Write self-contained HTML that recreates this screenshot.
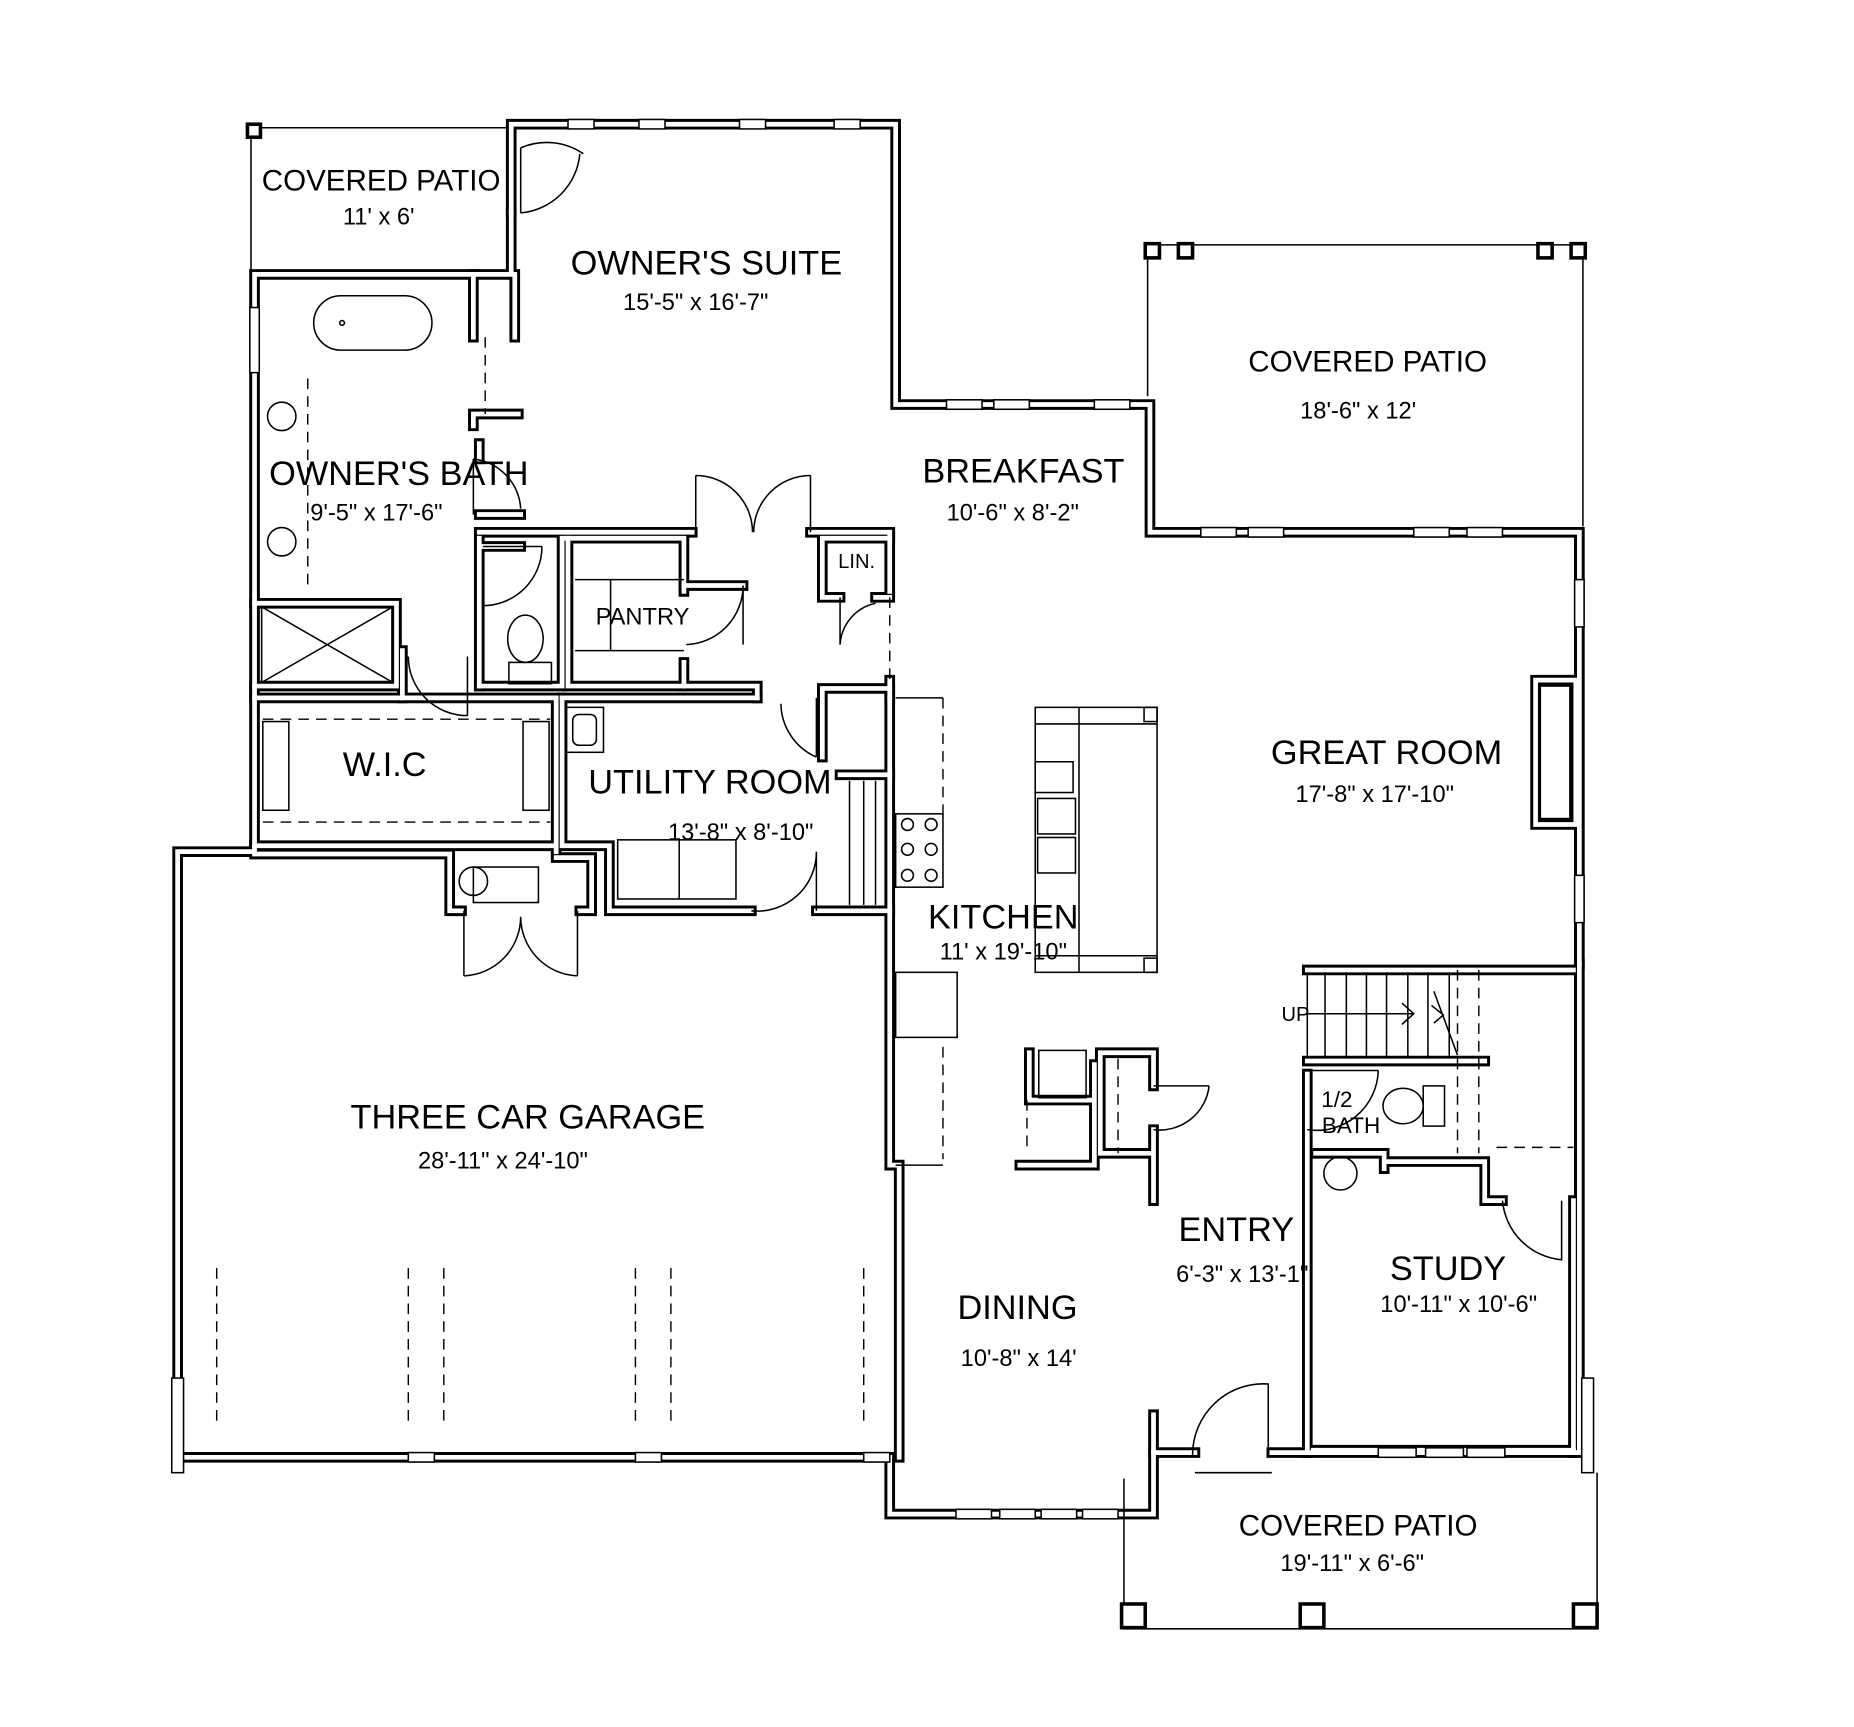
<!DOCTYPE html>
<html><head><style>
html,body{margin:0;padding:0;background:#fff}
svg{display:block}
text{font-family:"Liberation Sans",sans-serif;fill:#000}
.L{font-size:29px}
.S{font-size:20px}
.t{fill:none;stroke:#000;stroke-width:1.3}
.d{fill:none;stroke:#000;stroke-width:1.2;stroke-dasharray:9 6}
</style></head><body>
<svg width="1854" height="1727" viewBox="0 0 1567 1460" xmlns="http://www.w3.org/2000/svg">
<defs>
<g id="walls" fill="none" stroke-linejoin="miter" stroke-linecap="square">
<path d="M432,180 V105 H757 V342 H972 V450 H1335 V815"/>
<path d="M1335,815 V1228 H1075"/>
<path d="M1010,1228 H975 V1280 H752 V1232 H150 V720 H215 V232 H432 V180"/>
<path d="M975,1228 V1196"/>
<path d="M400,232 V285 M435,232 V285 M400,350 H438 M400,350 V360"/>
<path d="M405,375 V388 M405,435 H440 M405,455 V462 H440 M405,462 V580"/>
<path d="M405,450 H585 M685,450 H752"/>
<path d="M215,510 H335 V580 H215 M340,550 V590 M405,580 H475 V455 H480"/>
<path d="M480,455 V580 H578 V560 M578,500 V455 H480"/>
<path d="M578,495 H628 M578,580 H640 V590"/>
<path d="M695,455 V505 H710 M740,505 H752 M695,455 H752"/>
<path d="M752,450 V500 M752,575 V590"/>
<path d="M215,590 H470 V715 H215"/>
<path d="M470,715 V720 M475,590 V715 H515 V770 H635 M690,770 H752"/>
<path d="M475,590 H640 M695,582 H752 M695,582 V640 M710,655 H752"/>
<path d="M752,590 V985 H760 M760,985 V1232"/>
<path d="M215,722 H380 V770 H390 M490,770 H500 V725 H470"/>
<path d="M862,985 H925 V900 M870,890 V930 H925 M930,890 H975 V918 M975,955 V1015 M930,890 V975 H975"/>
<path d="M1105,820 H1330 M1105,897 H1255 M1105,908 V1228 M1112,975 H1170 V988 M1170,982 H1255 V1015 H1270 M1110,1226 H1330"/>
<path d="M1330,1015 V1228"/>
<path d="M1298,575 H1332 V697 H1298 Z"/>
</g>
</defs>
<use href="#walls" stroke="#000" stroke-width="9"/>
<use href="#walls" stroke="#fff" stroke-width="4"/>

<path class="t" d="M212,108 V228 M212,108 H430 M970,207 V335 M970,207 H1338 V445 M950,1250 V1377 H1350 V1245"/>
<g fill="#fff" stroke="#000" stroke-width="3">
<rect x="209" y="105" width="11" height="11"/>
<rect x="968" y="206" width="12" height="12"/><rect x="996" y="206" width="12" height="12"/>
<rect x="1300" y="206" width="12" height="12"/><rect x="1328" y="206" width="12" height="12"/>
<rect x="948" y="1356" width="20" height="20"/><rect x="1099" y="1356" width="20" height="20"/><rect x="1330" y="1356" width="20" height="20"/>
</g>
<g stroke="#000" stroke-width="1.3" fill="#fff">
<rect x="480" y="101" width="22" height="8"/><rect x="540" y="101" width="22" height="8"/><rect x="625" y="101" width="22" height="8"/><rect x="705" y="101" width="22" height="8"/>
<rect x="800" y="338" width="30" height="8"/><rect x="840" y="338" width="30" height="8"/><rect x="925" y="338" width="30" height="8"/>
<rect x="1015" y="446" width="30" height="8"/><rect x="1055" y="446" width="30" height="8"/><rect x="1195" y="446" width="30" height="8"/><rect x="1240" y="446" width="30" height="8"/>
<rect x="1331" y="490" width="8" height="40"/><rect x="1331" y="740" width="8" height="40"/>
<rect x="808" y="1276" width="30" height="8"/><rect x="845" y="1276" width="30" height="8"/><rect x="880" y="1276" width="30" height="8"/><rect x="915" y="1276" width="30" height="8"/>
<rect x="1165" y="1224" width="32" height="8"/><rect x="1205" y="1224" width="32" height="8"/><rect x="1240" y="1224" width="32" height="8"/>
<rect x="345" y="1228" width="22" height="8"/><rect x="537" y="1228" width="22" height="8"/><rect x="730" y="1228" width="22" height="8"/>
<rect x="145" y="1165" width="10" height="80"/><rect x="1337" y="1165" width="10" height="80"/>
<rect x="211" y="260" width="8" height="55"/>
</g>
<g class="t">
<path d="M440,125 V180 M440,125 A55,55 0 0 1 493,130 M440,180 A55,55 0 0 0 490,130"/>
<path d="M588,402 V450 M588,402 A48,48 0 0 1 636,450 M685,402 V450 M685,402 A48,48 0 0 0 637,450"/>
<path d="M628,495 V545 M628,495 A50,50 0 0 1 580,545"/>
<path d="M408,462 H458 M458,462 A50,50 0 0 1 408,512"/>
<path d="M400,388 V435 M400,388 A45,45 0 0 1 440,430"/>
<path d="M345,555 A50,50 0 0 0 395,605 M395,555 V605"/>
<path d="M710,505 V545 M710,545 A38,38 0 0 1 740,510"/>
<path d="M660,595 A50,50 0 0 0 690,640 M690,590 V640"/>
<path d="M690,720 V770 M690,720 A50,50 0 0 1 635,770"/>
<path d="M392,770 V825 M392,825 A50,50 0 0 0 440,775 M488,770 V825 M488,825 A50,50 0 0 1 440,775"/>
<path d="M975,918 H1022 M1022,918 A42,42 0 0 1 975,955"/>
<path d="M1008,1230 A60,60 0 0 1 1072,1170 V1230 M1010,1245 H1075"/>
<path d="M1105,905 H1165 M1165,905 A52,52 0 0 1 1105,955"/>
<path d="M1270,1015 A55,55 0 0 0 1320,1065 V1015"/>
</g>
<g class="d">
<path d="M222,608 H465 M222,695 H465 M752,505 V580 M1232,820 V975 M1250,820 V975 M1265,970 H1330 M260,320 V500 M410,285 V350"/>
<path d="M183,1072 V1205 M345,1072 V1205 M375,1072 V1205 M537,1072 V1205 M567,1072 V1205 M730,1072 V1205"/>
<path d="M797,590 V690 M797,885 V980 M868,930 V975 M945,895 V975"/>
</g>
<g class="t">
<rect x="265" y="250" width="100" height="46" rx="23"/><circle cx="289" cy="273" r="2"/>
<rect x="221" y="513" width="111" height="64"/><path d="M221,513 L332,577 M332,513 L221,577"/>
<circle cx="238" cy="352" r="12"/><circle cx="238" cy="458" r="12"/>
<rect x="222" y="610" width="22" height="75"/><rect x="442" y="610" width="22" height="75"/>
<path d="M486,490 H578 M516,490 V550 M486,550 H578"/>
<ellipse cx="444" cy="540" rx="15" ry="20"/><rect x="430" y="560" width="36" height="18"/>
<rect x="478" y="598" width="32" height="38"/><rect x="484" y="604" width="20" height="26" rx="5"/>
<rect x="522" y="710" width="100" height="50"/><path d="M574,710 V760"/>
<path d="M757,590 H797 M757,985 H797"/>
<rect x="757" y="688" width="40" height="62"/><circle cx="767" cy="697" r="5"/><circle cx="787" cy="697" r="5"/><circle cx="767" cy="740" r="5"/><circle cx="787" cy="740" r="5"/><circle cx="767" cy="718" r="5"/><circle cx="787" cy="718" r="5"/>
<rect x="757" y="822" width="52" height="55"/>
<rect x="875" y="598" width="103" height="224"/><path d="M912,598 V822 M875,612 H978 M875,808 H978"/><rect x="967" y="598" width="11" height="12"/><rect x="967" y="810" width="11" height="12"/>
<rect x="875" y="644" width="32" height="26"/><rect x="877" y="675" width="32" height="30"/><rect x="877" y="708" width="32" height="30"/>
<rect x="878" y="888" width="40" height="40"/>
<path d="M1105,822 V895 M1120,822 V895 M1138,822 V895 M1155,822 V895 M1172,822 V895 M1190,822 V895 M1207,822 V895 M1225,822 V895 M1105,857 H1195 M1185,848 L1195,857 L1185,866 M1210,850 L1220,858 L1212,865 M1212,838 L1232,892"/>
<path d="M718,660 V765 M730,660 V765 M740,660 V765"/>
<ellipse cx="1186" cy="935" rx="17" ry="15"/><rect x="1203" y="918" width="18" height="34"/>
<circle cx="1133" cy="992" r="14"/>
<rect x="400" y="733" width="55" height="30"/><circle cx="400" cy="745" r="12"/>
<rect x="1302" y="580" width="25" height="112"/>
</g>

<text x="322" y="161" text-anchor="middle" style="font-size:25px">COVERED PATIO</text>
<text class="S" x="320" y="190" text-anchor="middle">11' x 6'</text>
<text class="L" x="597" y="232" text-anchor="middle">OWNER'S SUITE</text>
<text class="S" x="588" y="262" text-anchor="middle">15'-5" x 16'-7"</text>
<text x="1156" y="314" text-anchor="middle" style="font-size:25px">COVERED PATIO</text>
<text class="S" x="1148" y="354" text-anchor="middle">18'-6" x 12'</text>
<text class="L" x="337" y="410" text-anchor="middle">OWNER'S BATH</text>
<text class="S" x="318" y="440" text-anchor="middle">9'-5" x 17'-6"</text>
<text class="L" x="865" y="408" text-anchor="middle">BREAKFAST</text>
<text class="S" x="856" y="440" text-anchor="middle">10'-6" x 8'-2"</text>
<text x="724" y="480" text-anchor="middle" style="font-size:17px">LIN.</text>
<text x="543" y="528" text-anchor="middle" style="font-size:20px">PANTRY</text>
<text class="L" x="325" y="656" text-anchor="middle">W.I.C</text>
<text class="L" x="1172" y="646" text-anchor="middle">GREAT ROOM</text>
<text class="S" x="1162" y="678" text-anchor="middle">17'-8" x 17'-10"</text>
<text class="L" x="600" y="671" text-anchor="middle">UTILITY ROOM</text>
<text class="S" x="626" y="710" text-anchor="middle">13'-8" x 8'-10"</text>
<text class="L" x="848" y="785" text-anchor="middle">KITCHEN</text>
<text class="S" x="848" y="811" text-anchor="middle">11' x 19'-10"</text>
<text x="1095" y="863" text-anchor="middle" style="font-size:17px">UP</text>
<text x="1130" y="936" text-anchor="middle" style="font-size:19px">1/2</text>
<text x="1142" y="958" text-anchor="middle" style="font-size:19px">BATH</text>
<text class="L" x="446" y="954" text-anchor="middle">THREE CAR GARAGE</text>
<text class="S" x="425" y="988" text-anchor="middle">28'-11" x 24'-10"</text>
<text class="L" x="1045" y="1049" text-anchor="middle">ENTRY</text>
<text class="S" x="1050" y="1084" text-anchor="middle">6'-3" x 13'-1"</text>
<text class="L" x="1224" y="1082" text-anchor="middle">STUDY</text>
<text class="S" x="1233" y="1109" text-anchor="middle">10'-11" x 10'-6"</text>
<text class="L" x="860" y="1115" text-anchor="middle">DINING</text>
<text class="S" x="861" y="1155" text-anchor="middle">10'-8" x 14'</text>
<text x="1148" y="1298" text-anchor="middle" style="font-size:25px">COVERED PATIO</text>
<text class="S" x="1143" y="1328" text-anchor="middle">19'-11" x 6'-6"</text>
</svg>
</body></html>
